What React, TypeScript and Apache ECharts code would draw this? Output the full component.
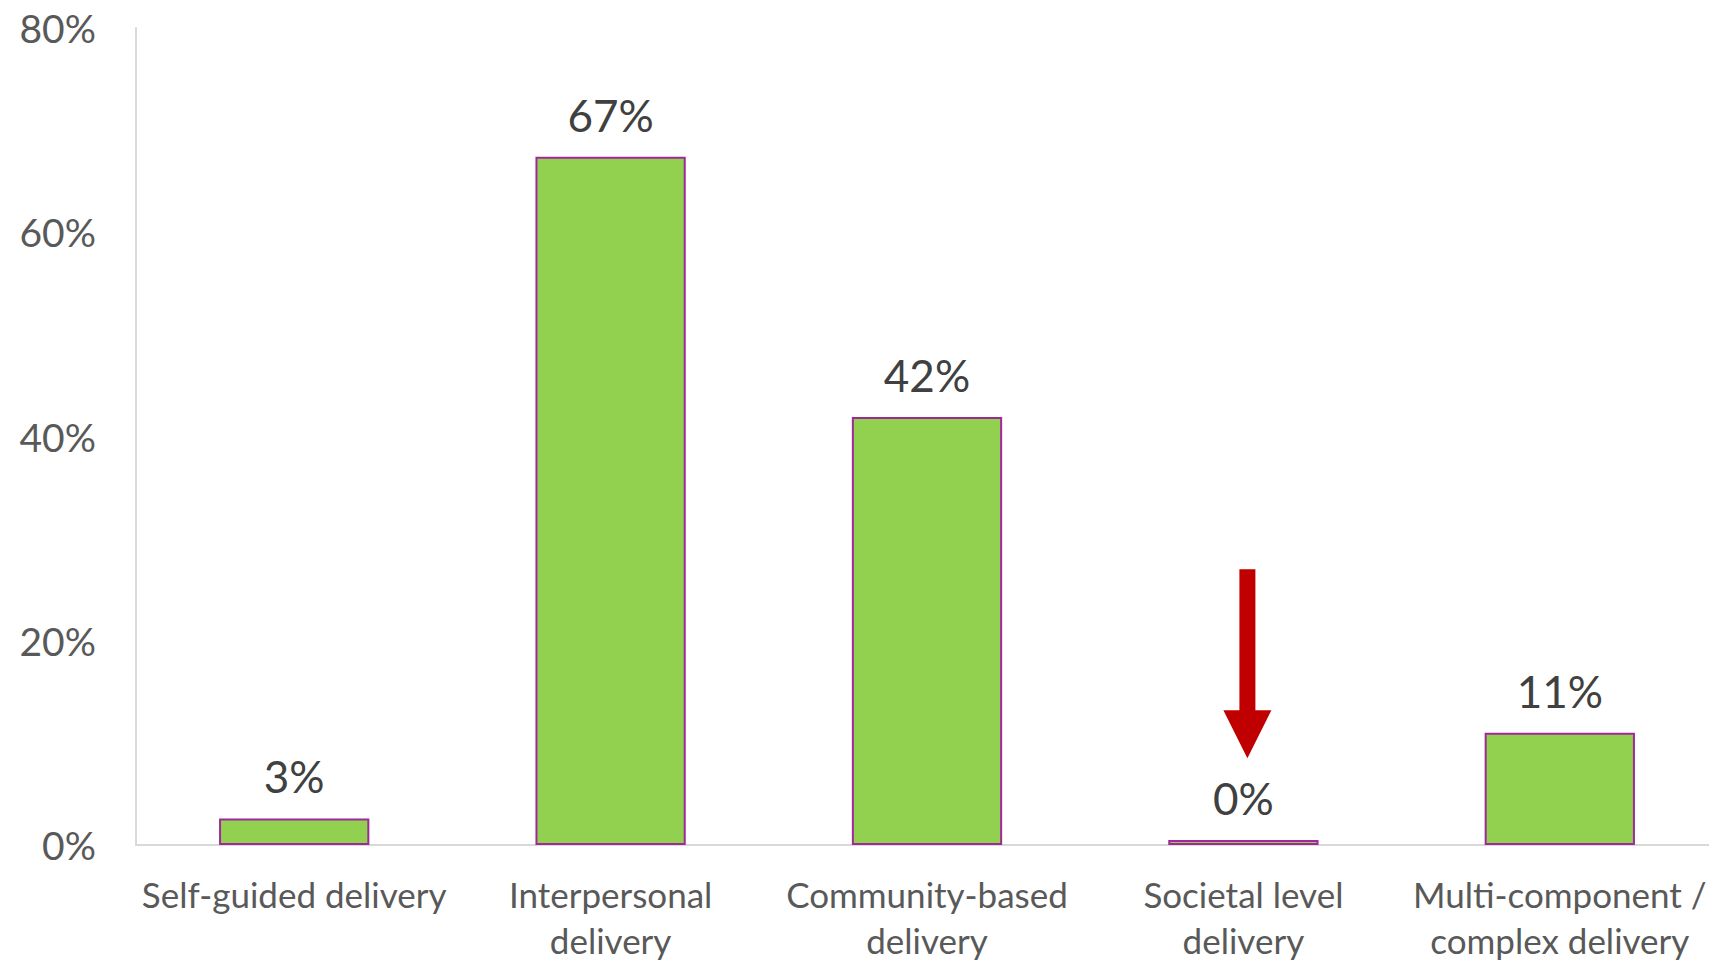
import React, { useEffect, useRef } from "react";
import * as echarts from "echarts";

const categories = [
  "Self-guided delivery",
  "Interpersonal\ndelivery",
  "Community-based\ndelivery",
  "Societal level\ndelivery",
  "Multi-component /\ncomplex delivery",
];
const values = [0.026, 0.674, 0.419, 0.0049, 0.11];
const yTicks = [0, 0.2, 0.4, 0.6, 0.8];
const arrowCategory = 3;
const arrowTopValue = 0.27;
const arrowHeadBaseValue = 0.132;
const arrowTipValue = 0.085;

const FONT = "Lato";

export default function App() {
  const ref = useRef<HTMLDivElement>(null);
  useEffect(() => {
    if (!ref.current) return;
    const chart = echarts.init(ref.current, undefined, { renderer: "svg" });
    chart.setOption({
      animation: false,
      grid: { left: 136, width: 1582, top: 28, height: 820, containLabel: false },
      xAxis: {
        type: "category",
        data: categories,
        axisLine: { show: true, lineStyle: { color: "#d9d9d9", width: 2 } },
        axisTick: { show: false },
        axisLabel: {
          color: "#595959",
          fontFamily: FONT,
          fontSize: 35,
          lineHeight: 46,
          margin: 26,
          interval: 0,
        },
      },
      yAxis: {
        type: "value",
        min: 0,
        max: 0.8,
        interval: 0.2,
        splitLine: { show: false },
        axisLine: { show: true, lineStyle: { color: "#d9d9d9", width: 2 } },
        axisTick: { show: false },
        axisLabel: {
          color: "#595959",
          fontFamily: FONT,
          fontSize: 39,
          margin: 40,
          formatter: (v: number) =>
            yTicks.some((t) => Math.abs(t - v) < 1e-9) ? Math.round(v * 100) + "%" : "",
        },
      },
      series: [
        {
          type: "bar",
          data: values,
          barWidth: "47.5%",
          itemStyle: { color: "#92d050", borderColor: "#a0289a", borderWidth: 2 },
          label: {
            show: true,
            position: "top",
            distance: 20,
            color: "#404040",
            fontFamily: FONT,
            fontSize: 44,
            formatter: (p: any) => Math.round(p.value * 100) + "%",
          },
        },
      ],
    });
    const [cx, yTop] = chart.convertToPixel({ seriesIndex: 0 }, [arrowCategory, arrowTopValue]);
    const [, yBase] = chart.convertToPixel({ seriesIndex: 0 }, [arrowCategory, arrowHeadBaseValue]);
    const [, yTip] = chart.convertToPixel({ seriesIndex: 0 }, [arrowCategory, arrowTipValue]);
    const ax = cx + 4;
    chart.setOption({
      graphic: [
        {
          type: "polygon",
          shape: {
            points: [
              [ax - 8, yTop],
              [ax + 8, yTop],
              [ax + 8, yBase],
              [ax + 24, yBase],
              [ax, yTip],
              [ax - 24, yBase],
              [ax - 8, yBase],
            ],
          },
          style: { fill: "#c00000" },
          z: 100,
        },
      ],
    });
    return () => chart.dispose();
  }, []);
  return (
    <div style={{ position: "fixed", left: 0, top: 0, width: 1709, height: 963, overflow: "hidden", background: "#fff" }}>
      <div ref={ref} style={{ width: 1730, height: 963 }} />
    </div>
  );
}
